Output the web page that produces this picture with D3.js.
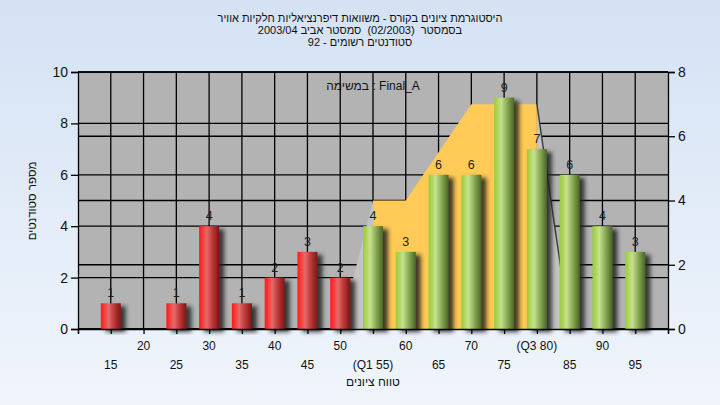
<!DOCTYPE html>
<html><head><meta charset="utf-8">
<script src="https://cdn.jsdelivr.net/npm/d3@7"></script>
<style>
html,body{margin:0;padding:0;}
svg{display:block;font-family:"Liberation Sans",Arial,sans-serif;}
.pre{white-space:pre;}
</style></head>
<body>
<svg id="chart" width="720" height="405"></svg>
<script>
const categories = [15,20,25,30,35,40,45,50,55,60,65,70,75,80,85,90,95];
const counts     = [1,0,1,4,1,2,3,2,4,3,6,6,9,7,6,4,3];
const xTickLabels = ["15","20","25","30","35","40","45","50","(Q1 55)","60","65","70","75","(Q3 80)","85","90","95"];
const q1 = 55, q3 = 80;
const areaX = [50,55,60,65,70,75,80,85];
const areaV = [0,4,4,5.5,7,7,7,0];
const leftTicks = [0,2,4,6,8,10];
const rightTicks = [0,2,4,6,8];
const titleLines = ["היסטוגרמת ציונים בקורס - משוואות דיפרנציאליות חלקיות אוויר",
                    "בסמסטר  (02/2003)  סמסטר אביב 2003/04",
                    "סטודנטים רשומים - 92"];
const taskLabel = "במשימה : Final_A";
const xTitle = "טווח ציונים";
const yTitle = "מספר סטודנטים";

const svg = d3.select("#chart");
const W = 720, H = 405;
const L = 78, R = 668, T = 72, B = 329;

const defs = svg.append("defs");
const bgG = defs.append("linearGradient").attr("id","bg").attr("x1",0).attr("y1",0).attr("x2",0).attr("y2",1);
bgG.append("stop").attr("offset",0).attr("stop-color","#d4e2f4");
bgG.append("stop").attr("offset",1).attr("stop-color","#f0f5fc");
function grad(id, stops){
  const g = defs.append("linearGradient").attr("id",id).attr("x1",0).attr("y1",0).attr("x2",1).attr("y2",0);
  stops.forEach(s=>g.append("stop").attr("offset",s[0]).attr("stop-color",s[1]));
}
grad("red",[[0,"#ff1a1a"],[0.12,"#fa3030"],[0.38,"#e46a6a"],[0.65,"#c03a3a"],[1,"#7a1616"]]);
grad("green",[[0,"#9ccb3e"],[0.12,"#a8d250"],[0.35,"#c6e190"],[0.65,"#8aaa55"],[1,"#4a6524"]]);
const f = defs.append("filter").attr("id","shadow").attr("x","-20%").attr("y","-10%").attr("width","180%").attr("height","130%");
f.append("feDropShadow").attr("dx",5).attr("dy",3).attr("stdDeviation",2.2)
  .attr("flood-color","#1e1e1e").attr("flood-opacity",0.85);

svg.append("rect").attr("width",W).attr("height",H).attr("fill","url(#bg)");

const x = d3.scaleLinear().domain([10,100]).range([L,R]);
const yL = d3.scaleLinear().domain([0,10]).range([B,T]);
const yR = d3.scaleLinear().domain([0,8]).range([B,T]);

svg.append("rect").attr("x",L).attr("y",T).attr("width",R-L).attr("height",B-T).attr("fill","#b3b3b3");

// grid
const grid = svg.append("g").attr("stroke","#000").attr("stroke-width",1.3);
categories.forEach(c=>grid.append("line").attr("x1",x(c)).attr("x2",x(c)).attr("y1",T).attr("y2",B));
leftTicks.forEach(v=>grid.append("line").attr("x1",L).attr("x2",R).attr("y1",yL(v)).attr("y2",yL(v)));
rightTicks.forEach(v=>grid.append("line").attr("x1",L).attr("x2",R).attr("y1",yR(v)).attr("y2",yR(v)));

// area series
const pts = areaX.map((a,i)=>({x:a,v:areaV[i]}));
const area = d3.area().x(d=>x(d.x)).y0(yR(0)).y1(d=>yR(d.v));
const inner = pts.filter(d=>d.x>=q1 && d.x<=q3);
const leftSide = pts.filter(d=>d.x<=q1);
const rightSide = pts.filter(d=>d.x>=q3);
svg.append("path").attr("d",area(leftSide)).attr("fill","#c3c3c3");
svg.append("path").attr("d",area(rightSide)).attr("fill","#c3c3c3");
svg.append("path").attr("d",area(inner)).attr("fill","#ffca55");
svg.append("path").attr("d",d3.line().x(d=>x(d.x)).y(d=>yR(d.v))(rightSide))
  .attr("fill","none").attr("stroke","#3a3a3a").attr("stroke-width",1.4);

// bars
const bw = 20;
const bars = svg.append("g");
categories.forEach((c,i)=>{
  if(counts[i]<=0) return;
  bars.append("rect").attr("x",x(c)-bw/2).attr("y",yL(counts[i])).attr("width",bw)
    .attr("height",yL(0)-yL(counts[i]))
    .attr("fill", c < q1 ? "url(#red)" : "url(#green)")
    .attr("filter","url(#shadow)");
});

// axes
const axL = svg.append("g").attr("transform",`translate(${L},0)`)
  .call(d3.axisLeft(yL).tickValues(leftTicks).tickSize(7).tickPadding(3));
const axR = svg.append("g").attr("transform",`translate(${R},0)`)
  .call(d3.axisRight(yR).tickValues(rightTicks).tickSize(7).tickPadding(3));
const axB = svg.append("g").attr("transform",`translate(0,${B})`)
  .call(d3.axisBottom(x).tickValues(d3.range(10,101,5)).tickSize(5).tickFormat(""));
[axL,axR,axB].forEach(a=>{
  a.select(".domain").attr("stroke","#000").attr("stroke-width",1.3);
  a.selectAll(".tick line").attr("stroke","#000").attr("stroke-width",1.3);
  a.selectAll("text").attr("font-size",14).attr("fill","#111").attr("font-family","Liberation Sans, Arial, sans-serif");
});

// data labels
const lbl = svg.append("g").attr("font-size",12.5).attr("fill","#1e1e1e").attr("text-anchor","middle");
categories.forEach((c,i)=>{
  if(counts[i]<=0) return;
  lbl.append("text").attr("x",x(c)).attr("y",yL(counts[i])-6).text(counts[i]);
});

// x tick labels, staggered
const xl = svg.append("g").attr("font-size",12).attr("fill","#111").attr("text-anchor","middle");
categories.forEach((c,i)=>{
  xl.append("text").attr("x",x(c)).attr("y", i%2===0 ? 369 : 350).text(xTickLabels[i]);
});

// titles
const tg = svg.append("g").attr("font-family","Liberation Sans, Arial, sans-serif").attr("font-size",11).attr("fill","#111").attr("text-anchor","middle");
titleLines.forEach((t,i)=>{
  tg.append("text").attr("class","pre").attr("x",360).attr("y",22+i*12).attr("direction","rtl").text(t);
});
svg.append("text").attr("x",x(55)).attr("y",90).attr("text-anchor","middle").attr("font-size",12)
  .attr("fill","#111").text(taskLabel);
svg.append("text").attr("x",x(55)).attr("y",386).attr("text-anchor","middle").attr("font-size",12)
  .attr("fill","#111").text(xTitle);
svg.append("text").attr("transform","translate(36,201) rotate(-90)").attr("text-anchor","middle").attr("font-size",11.5)
  .attr("fill","#111").text(yTitle);
</script>
</body></html>
